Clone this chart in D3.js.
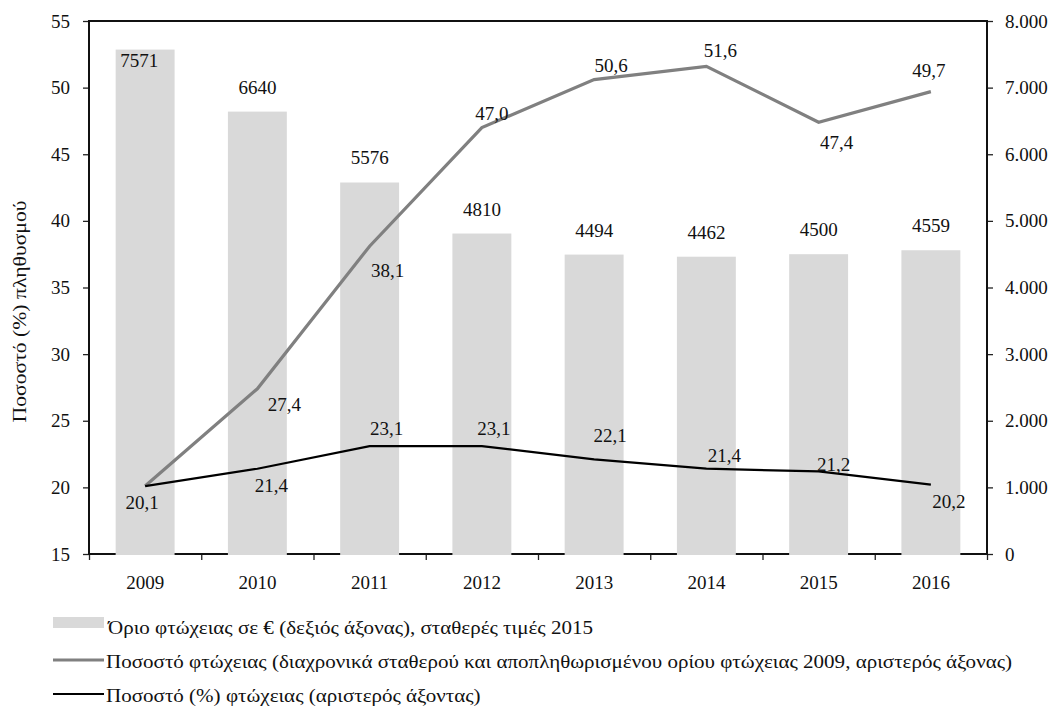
<!DOCTYPE html>
<html><head><meta charset="utf-8">
<script src="https://cdn.jsdelivr.net/npm/d3@7"></script>
<style>
body{margin:0;background:#fff;}
svg text{font-family:"Liberation Serif","Times New Roman",serif;fill:#111;}
</style></head>
<body><svg id="c" width="1056" height="707"></svg>
<script>
const years = ["2009","2010","2011","2012","2013","2014","2015","2016"];
const povertyLine = [7571,6640,5576,4810,4494,4462,4500,4559];
const anchoredRate = [20.1,27.4,38.1,47.0,50.6,51.6,47.4,49.7];
const povertyRate = [20.1,21.4,23.1,23.1,22.1,21.4,21.2,20.2];
const leftTicks = [15,20,25,30,35,40,45,50,55];
const rightTicks = [0,1000,2000,3000,4000,5000,6000,7000,8000];
const legendLabels = [
  "Όριο φτώχειας σε € (δεξιός άξονας), σταθερές τιμές 2015",
  "Ποσοστό φτώχειας (διαχρονικά σταθερού και αποπληθωρισμένου ορίου φτώχειας 2009, αριστερός άξονας)",
  "Ποσοστό (%) φτώχειας (αριστερός άξοντας)"
];
const yTitle = "Ποσοστό (%) πληθυσμού";

// label layout offsets (dx, dy from point); null = hidden
const anchoredLabelOff = [null,[27,22],[18,31],[10,-8],[17,-8],[14,-9],[18,27],[-2,-15]];
const rateLabelOff = [[-3,23],[14,23],[17,-11],[12,-11],[16,-17],[18,-7],[15,0],[18,23]];
const barLabelInside = [true,false,false,false,false,false,false,false];

const L=89, R=987, T=21, B=554;
const svg = d3.select("#c");
const loc = d3.formatLocale({decimal:",",thousands:".",grouping:[3],currency:["",""]});
const fmtK = loc.format(",");
const fmt1 = loc.format(".1f");

const x = d3.scaleBand().domain(years).range([L,R]).paddingInner(0.475).paddingOuter(0.2375);
const xb = d3.scaleLinear().domain([0,years.length]).range([L,R]);
const yL = d3.scaleLinear().domain([15,55]).range([B,T]);
const yR = d3.scaleLinear().domain([0,8000]).range([B,T]);
const cx = d => x(d)+x.bandwidth()/2;

// axes
const gl = svg.append("g").attr("transform",`translate(${L},0)`)
  .call(d3.axisLeft(yL).tickValues(leftTicks).tickSize(6).tickPadding(13));
const gr = svg.append("g").attr("transform",`translate(${R},0)`)
  .call(d3.axisRight(yR).tickValues(rightTicks).tickSize(6).tickPadding(12).tickFormat(fmtK));
const gb = svg.append("g").attr("transform",`translate(0,${B})`)
  .call(d3.axisBottom(xb).tickValues(d3.range(0,years.length+1)).tickSize(6).tickFormat(""));
const gx = svg.append("g").attr("transform",`translate(0,${B})`)
  .call(d3.axisBottom(x).tickSize(0).tickPadding(22));
[gl,gr,gb,gx].forEach(g=>{
  g.attr("font-family",null);
  g.select(".domain").remove();
  g.selectAll(".tick line").attr("stroke","#222").attr("stroke-width",1.3);
  g.selectAll("text").attr("font-size",19).attr("fill","#111");
});

// frame
svg.append("rect").attr("x",L).attr("y",T).attr("width",R-L).attr("height",B-T)
  .attr("fill","none").attr("stroke","#111").attr("stroke-width",2);

// bars
svg.append("g").selectAll("rect").data(years).join("rect")
  .attr("x",d=>x(d)).attr("width",x.bandwidth())
  .attr("y",(d,i)=>yR(povertyLine[i])).attr("height",(d,i)=>yR(0)-yR(povertyLine[i])+1)
  .attr("fill","#d9d9d9");

// lines
const lineL = d3.line().x((d,i)=>cx(years[i])).y(d=>yL(d));
svg.append("path").attr("d",lineL(anchoredRate)).attr("fill","none")
  .attr("stroke","#808080").attr("stroke-width",3.2).attr("stroke-linejoin","miter");
svg.append("path").attr("d",lineL(povertyRate)).attr("fill","none")
  .attr("stroke","#000").attr("stroke-width",2.2);

// labels
const lab = svg.append("g").attr("font-size",19).attr("text-anchor","middle");
years.forEach((yr,i)=>{
  const by = yR(povertyLine[i]);
  lab.append("text").attr("x",cx(yr)+(barLabelInside[i]?-6:0))
    .attr("y",barLabelInside[i]?by+17:by-18).text(povertyLine[i]);
  const o1 = anchoredLabelOff[i];
  if(o1) lab.append("text").attr("x",cx(yr)+o1[0]).attr("y",yL(anchoredRate[i])+o1[1]).text(fmt1(anchoredRate[i]));
  const o2 = rateLabelOff[i];
  if(o2) lab.append("text").attr("x",cx(yr)+o2[0]).attr("y",yL(povertyRate[i])+o2[1]).text(fmt1(povertyRate[i]));
});

// y title
const yt = svg.append("text").attr("transform",`translate(26,${(T+B)/2+24}) rotate(-90)`)
  .attr("text-anchor","middle").attr("font-size",18.5).text(yTitle);
yt.attr("textLength",222).attr("lengthAdjust","spacingAndGlyphs");

// legend
const lg = svg.append("g").attr("font-size",19);
lg.append("rect").attr("x",53).attr("y",617).attr("width",51).attr("height",11).attr("fill","#d9d9d9");
lg.append("line").attr("x1",53).attr("x2",104).attr("y1",660).attr("y2",660).attr("stroke","#808080").attr("stroke-width",3.2);
lg.append("line").attr("x1",53).attr("x2",104).attr("y1",694).attr("y2",694).attr("stroke","#000").attr("stroke-width",2.2);
const rowsY=[634,668,702], rowsX=[108,106,106];
const texts = legendLabels.map((t,i)=>lg.append("text").attr("x",rowsX[i]).attr("y",rowsY[i]).text(t));
const ratio = 906 / texts[1].node().getComputedTextLength();
texts.forEach(t=>{
  const w = t.node().getComputedTextLength();
  t.attr("textLength", w*ratio).attr("lengthAdjust","spacingAndGlyphs");
});
</script></body></html>
